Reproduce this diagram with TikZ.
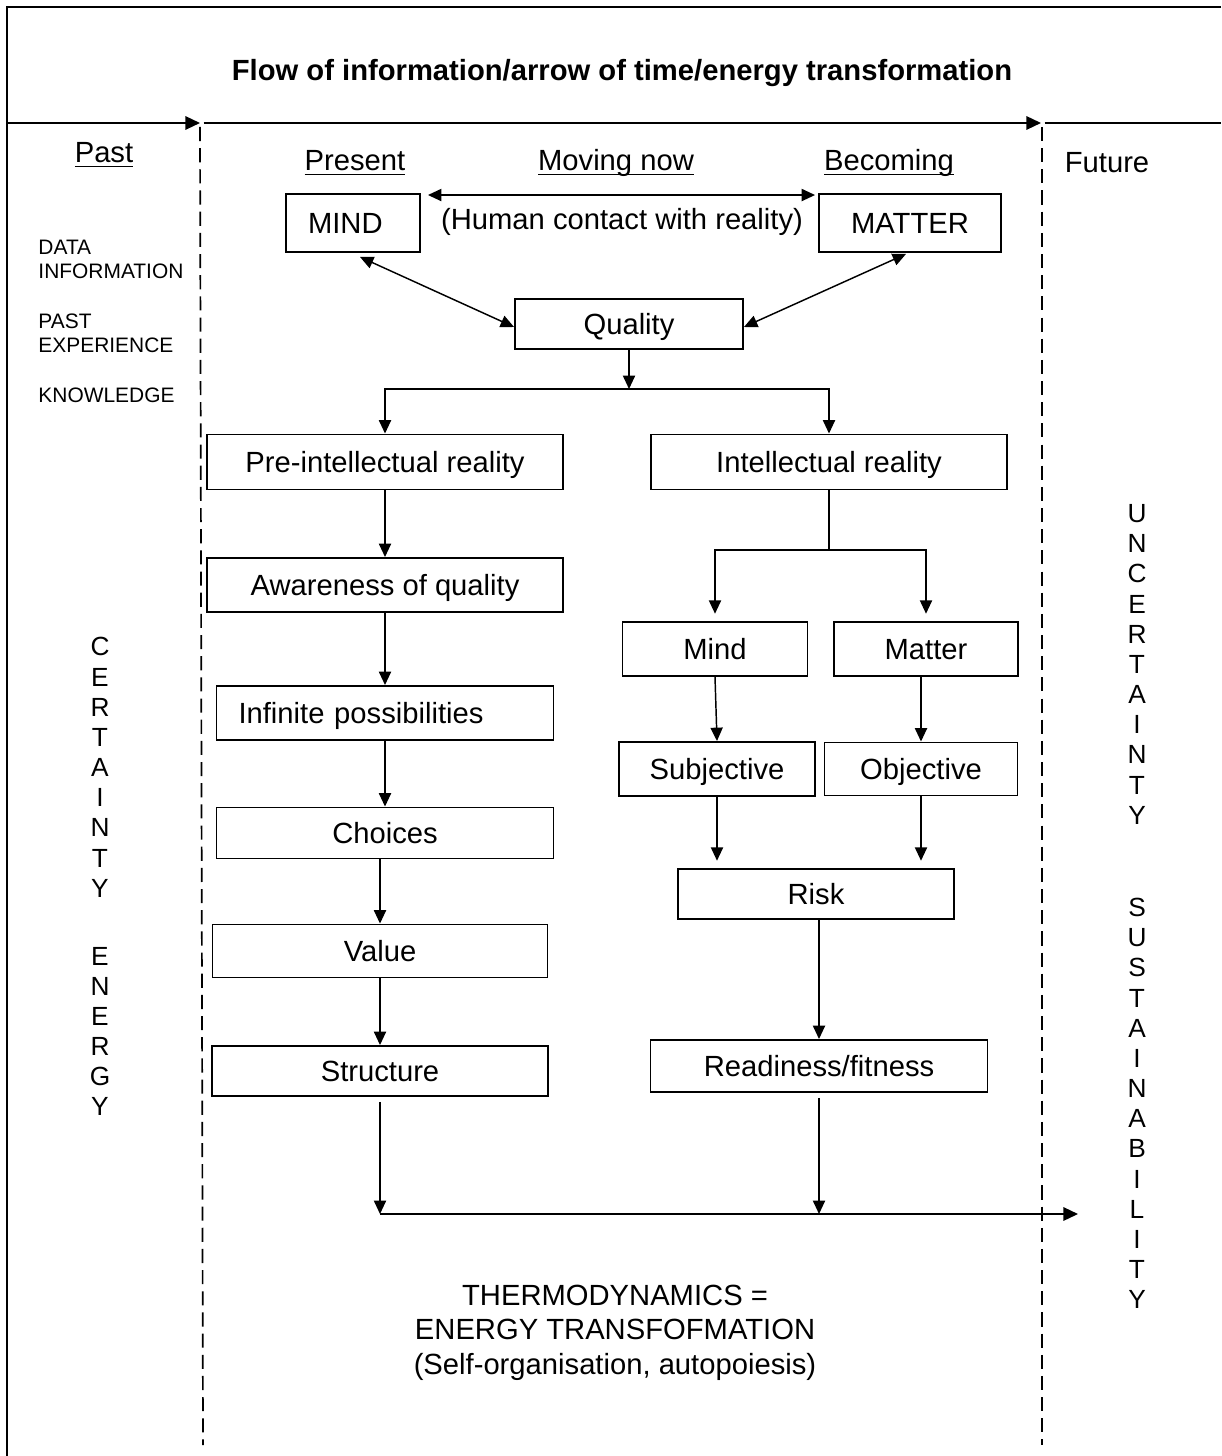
\documentclass[tikz,border=0pt]{standalone}
\usepackage{fontspec}
\setsansfont{Liberation Sans}
\usetikzlibrary{arrows.meta, calc}
\newcommand{\boxfont}{\sffamily\fontsize{12}{14}\selectfont}
\newcommand{\sidefont}{\sffamily\fontsize{8.6}{9.9}\selectfont}
\newcommand{\stackfont}{\sffamily\fontsize{10.8}{12.4}\selectfont}
\newcommand{\ulword}[1]{\setbox0\hbox{#1}\rlap{\vrule width\wd0 height -1.1pt depth 1.7pt}#1}
\tikzset{
  stepbox/.style 2 args={
    draw,
    line width=0.8pt,
    inner sep=0pt,
    minimum width=#1*0.411pt,
    minimum height=#2*0.411pt,
    text height=8.6pt,
    text depth=0pt,
    font=\boxfont
  },
  indent/.style={align=left, inner xsep=9pt, text width=#1*0.411pt},
  hdr/.style={inner sep=0pt, font=\boxfont},
  side/.style={inner sep=0pt, align=left, font=\sidefont},
  stack/.style={inner sep=0pt, align=center, font=\stackfont},
  arr/.style={-{Triangle[length=5.5pt,width=5pt]}, line width=0.6pt},
  dblarr/.style={{Triangle[length=5.5pt,width=5pt]}-{Triangle[length=5.5pt,width=5pt]}, line width=0.6pt},
  timearr/.style={-{Triangle[length=6pt,width=5.5pt]}, line width=0.8pt},
  dashline/.style={line width=0.7pt, dash pattern=on 5.8pt off 2.9pt}
}
\begin{document}
\begin{tikzpicture}[x=0.411pt, y=-0.411pt]
  \useasboundingbox (0,0) rectangle (1221,1456);

  % frame and time line
  \draw[line width=0.8pt] (1221,7) -- (7,7) -- (7,1456);
  \node[hdr, font=\boxfont\bfseries, anchor=base] (title) at (622,81)
    {Flow of information/arrow of time/energy transformation};
  \coordinate (tl) at (7,123);
  \coordinate (tp) at (200,123);
  \coordinate (tf) at (1041,123);
  \coordinate (tr) at (1221,123);
  \draw[timearr] (tl) -- (tp);
  \draw[timearr, shorten <=1.5pt] (tp) -- (tf);
  \draw[line width=0.8pt, shorten <=1.5pt] (tf) -- (tr);
  \draw[dashline] (200,127) -- (203,1445);
  \draw[dashline] (1042,127) -- (1042,1445);

  % column heads
  \node[hdr, anchor=base] (past) at (104,163) {\ulword{Past}};
  \node[hdr, anchor=base] (present) at (355,171) {\ulword{Present}};
  \node[hdr, anchor=base] (moving) at (616,171) {\ulword{Moving now}};
  \node[hdr, anchor=base] (becoming) at (889,171) {\ulword{Becoming}};
  \node[hdr, anchor=base] (future) at (1107,173) {Future};

  % side words
  \node[side, anchor=north west] (datainfo) at (38,240) {DATA\\INFORMATION};
  \node[side, anchor=north west] (pastexp) at (38,313) {PAST\\EXPERIENCE};
  \node[side, anchor=north west] (knowledge) at (38,387) {KNOWLEDGE};
  \node[stack, anchor=north] (certainty) at (100,637)
    {C\\E\\R\\T\\A\\I\\N\\T\\Y\\[15.5pt]E\\N\\E\\R\\G\\Y};
  \node[stack, anchor=north] (uncertainty) at (1137,504)
    {U\\N\\C\\E\\R\\T\\A\\I\\N\\T\\Y\\[25.5pt]S\\U\\S\\T\\A\\I\\N\\A\\B\\I\\L\\I\\T\\Y};

  % top row
  \node[stepbox={134}{58}, indent=90] (mindtop) at (353,223) {MIND};
  \node[stepbox={182}{58}] (mattertop) at (910,223) {MATTER};
  \node[hdr, anchor=base] (contact) at (622,230) {(Human contact with reality)};
  \node[stepbox={228}{50}] (quality) at (629,324) {Quality};
  \draw[dblarr] ($(mindtop.north east)+(7,2)$) -- ($(mattertop.north west)+(-3,2)$);
  \draw[dblarr] ($(mindtop.south)+(7,4)$) -- ($(quality.west)+(0,3)$);
  \draw[dblarr] ($(mattertop.south)+(-4,1)$) -- ($(quality.east)+(0,3)$);

  % left branch
  \node[stepbox={356}{55}] (prereal) at (385,462) {Pre-intellectual reality};
  \node[stepbox={356}{54}] (aware) at (385,585) {Awareness of quality};
  \node[stepbox={337}{54}, indent=293] (infposs) at (385,713) {Infinite possibilities};
  \node[stepbox={337}{51}] (choices) at (385,833) {Choices};
  \node[stepbox={335}{53}] (value) at (380,951) {Value};
  \node[stepbox={336}{50}] (structure) at (380,1071) {Structure};

  % right branch
  \node[stepbox={356}{55}] (intreal) at (829,462) {Intellectual reality};
  \node[stepbox={185}{54}] (mindbox) at (715,649) {Mind};
  \node[stepbox={184}{54}] (matterbox) at (926,649) {Matter};
  \node[stepbox={196}{54}] (subj) at (717,769) {Subjective};
  \node[stepbox={193}{53}] (obj) at (921,769) {Objective};
  \node[stepbox={276}{50}] (risk) at (816,894) {Risk};
  \node[stepbox={337}{52}] (ready) at (819,1066) {Readiness/fitness};

  % split below quality
  \coordinate (qsplit) at (629,389);
  \draw[arr] (quality.south) -- (qsplit);
  \draw[arr] (qsplit) -| (prereal.north);
  \draw[arr] (qsplit) -| (intreal.north);

  \draw[arr] (prereal.south) -- (aware.north);
  \draw[arr] (aware.south) -- (infposs.north);
  \draw[arr] (infposs.south) -- (choices.north);
  \draw[arr] (value.north |- choices.south) -- (value.north);
  \draw[arr] (value.south) -- (structure.north);

  \coordinate (isplit) at (829,550);
  \draw[line width=0.6pt] (intreal.south) -- (isplit);
  \draw[arr, shorten >=3pt] (isplit) -| (mindbox.north);
  \draw[arr, shorten >=3pt] (isplit) -| (matterbox.north);
  \draw[arr] (mindbox.south) -- (subj.north);
  \draw[arr] (obj.north |- matterbox.south) -- (obj.north);
  \draw[arr, shorten >=3pt] (subj.south) -- (subj.south |- risk.north);
  \draw[arr, shorten >=3pt] (obj.south) -- (obj.south |- risk.north);
  \draw[arr] (ready.north |- risk.south) -- (ready.north);

  % joint line to the future
  \coordinate (jl) at (380,1214);
  \coordinate (jr) at (1078,1214);
  \draw[arr, shorten <=2pt] (structure.south) -- (structure.south |- jl);
  \draw[arr, shorten <=2pt] (ready.south) -- (ready.south |- jl);
  \draw[timearr] (jl) -- (jr);

  \node[hdr, align=center, anchor=north] (thermo) at (615,1285)
    {THERMODYNAMICS =\\ENERGY TRANSFOFMATION\\(Self-organisation, autopoiesis)};

\end{tikzpicture}
\end{document}
